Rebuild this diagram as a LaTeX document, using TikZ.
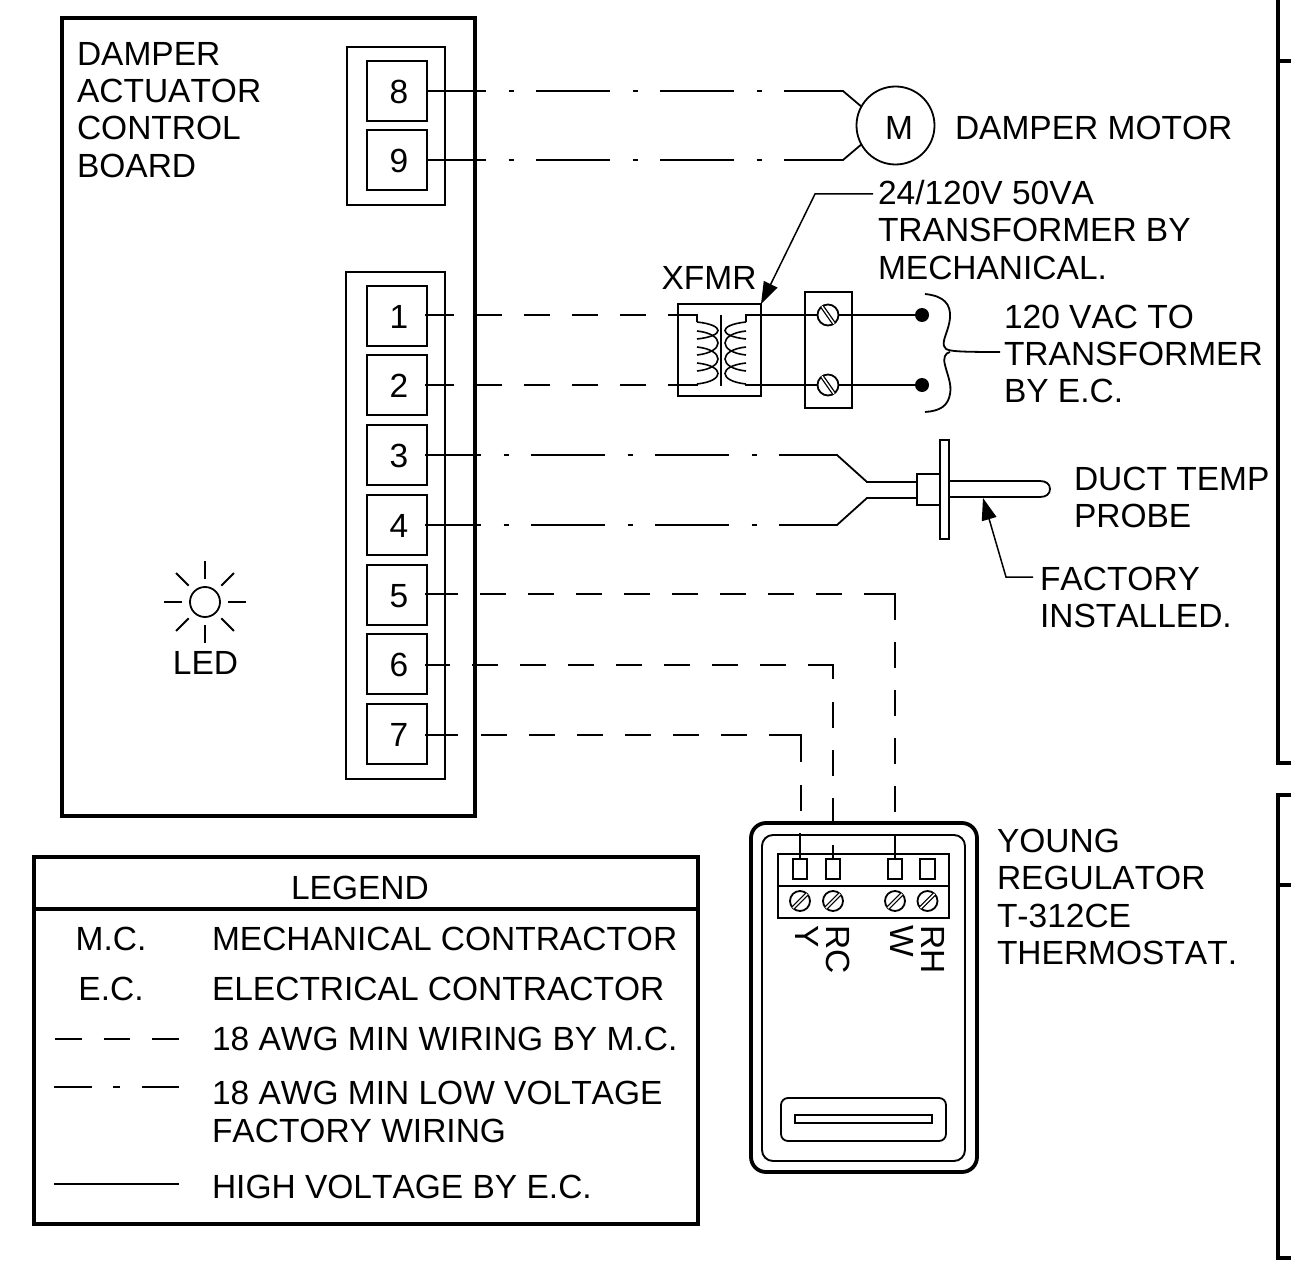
\documentclass[tikz,border=0pt]{standalone}
\usepackage{fontspec}
\setmainfont[Kerning=Off]{Liberation Sans}
\usetikzlibrary{arrows.meta}
\tikzset{
  every node/.style={font=\fontsize{33.5}{37.2}\selectfont,inner sep=0pt,outer sep=0pt},
  wire/.style={line width=1.8pt,line join=miter},
  mdash/.style={wire,dash pattern=on 26pt off 22pt},
  ldash/.style={wire,dash pattern=on 73.5pt off 23pt on 5pt off 22.5pt},
  heavy/.style={line width=3.8pt},
  box/.style={draw,line width=1.9pt},
  terminal/.style={box,minimum width=60pt,minimum height=60pt},
  txt/.style={anchor=west,align=left},
  screw/.style={circle,draw,fill=white,line width=1.8pt,minimum size=21pt},
  slot/.style={line width=1.3pt,double=white,double distance=1.5pt},
  pin/.style={box,minimum width=14.5pt,minimum height=20pt},
  dot/.style={circle,fill=black,minimum size=14pt},
  pointer/.style={wire,line width=1.5pt,-{Triangle[length=22pt,width=15pt]}}
}
\begin{document}
\begin{tikzpicture}[x=1pt,y=-1pt]
\useasboundingbox (0,0) rectangle (1291,1268);
% sheet border at right
\draw[heavy] (1291,61) -- (1278,61);
\draw[heavy] (1278,0) -- (1278,763) -- (1291,763);
\draw[heavy] (1291,795) -- (1278,795) -- (1278,1258) -- (1291,1258);
\draw[heavy] (1278,885) -- (1291,885);
% control board
\node[draw,heavy,minimum width=413pt,minimum height=798pt] (board) at (268.5,417) {};
\node[txt] (boardtxt) at (77,110) {DAMPER\\ACTUATOR\\CONTROL\\BOARD};
\node[box,minimum width=98pt,minimum height=158pt] (grpa) at (396,126) {};
\node[box,minimum width=99pt,minimum height=507pt] (grpb) at (395.5,525.5) {};
\foreach \n/\y/\ty in {8/91/92,9/160/161,1/316/317,2/385/386,3/455/456,4/525/526,5/595/596,6/664/665,7/734/735}{
  \node[terminal] (t\n) at (397,\y) {};
  \node (num\n) at (399,\ty) {\n};
}
% LED
\node[circle,draw,line width=1.8pt,minimum size=30pt] (led) at (205,602) {};
\foreach \a in {0,45,...,315}
  \draw[wire] ([shift={(\a:23pt)}]led.center) -- ([shift={(\a:41pt)}]led.center);
\node (ledtxt) at (205.5,663) {LED};
% motor
\node[circle,draw,line width=1.8pt,minimum size=78pt] (motor) at (895.5,125.5) {};
\node (mtxt) at (899,127.5) {M};
\node[txt] (motortxt) at (955,128) {DAMPER MOTOR};
\coordinate (a8) at (785,91); \coordinate (b8) at (843,91);
\coordinate (a9) at (785,160); \coordinate (b9) at (843,160);
\draw[ldash,dash phase=15pt] (t8.east |- a8) -- (a8);
\draw[wire] (a8) -- (b8) -- (motor.151);
\draw[ldash,dash phase=15pt] (t9.east |- a9) -- (a9);
\draw[wire] (a9) -- (b9) -- (motor.209);
% transformer
\node[box,minimum width=83pt,minimum height=92pt] (xf) at (719.5,350) {};
\node (xftxt) at (709,278) {XFMR};
\coordinate (core1) at (721,315); \coordinate (core2) at (721,386);
\draw[line width=1.3pt] (core1) -- (core2);
\foreach \a/\b in {322/339,331/355,347/371,363/384}{
  \draw[wire,line width=1.6pt] (697,\a) .. controls (725,\a+3) and (725,\b-3) .. (697,\b);
  \draw[wire,line width=1.6pt] (746,\a) .. controls (718,\a+3) and (718,\b-3) .. (746,\b);
}
% terminal block
\node[box,minimum width=47pt,minimum height=116pt] (block) at (828.5,350) {};
\node[screw] (s1) at (828,315) {};
\node[screw] (s2) at (828,385) {};
\draw[slot] (s1.125) -- (s1.305);
\draw[slot] (s2.125) -- (s2.305);
\node[dot] (d1) at (922,315) {};
\node[dot] (d2) at (922,385) {};
\coordinate (p1) at (669,315); \coordinate (p2) at (669,385);
\coordinate (c1) at (697,315); \coordinate (c2) at (697,385);
\coordinate (c3) at (746,315); \coordinate (c4) at (746,385);
\draw[wire] ([xshift=-2pt]t1.east |- p1) -- ([xshift=1pt]t1.east |- p1);
\draw[wire] ([xshift=-2pt]t2.east |- p2) -- ([xshift=1pt]t2.east |- p2);
\draw[mdash] ([xshift=1pt]t1.east |- p1) -- (p1);
\draw[mdash] ([xshift=1pt]t2.east |- p2) -- (p2);
\draw[wire] (p1) -- (c1) -- (697,322);
\draw[wire] (p2) -- (c2) -- (697,384);
\draw[wire] (746,322) -- (c3) -- (s1.west);
\draw[wire] (746,384) -- (c4) -- (s2.west);
\draw[wire] (s1.east) -- (d1);
\draw[wire] (s2.east) -- (d2);
% brace
\coordinate (br) at (1000,352);
\draw[wire] (925,294) .. controls (944,296) and (951,304) .. (950,318)
  .. controls (949,330) and (942,340) .. (944,346) .. controls (945,351) and (950,352) .. (br);
\draw[wire] (950,352) .. controls (945,353) and (943,358) .. (945,365)
  .. controls (947,374) and (952,384) .. (950,394) .. controls (948,406) and (940,411) .. (925,412);
\node[txt] (acttxt) at (1004,354) {120 VAC TO\\TRANSFORMER\\BY E.C.};
\node[txt] (xftop) at (878,230) {24/120V 50VA\\TRANSFORMER BY\\MECHANICAL.};
\coordinate (ld) at (873,194); \coordinate (ld2) at (815,194);
\draw[pointer] (ld) -- (ld2) -- (xf.north east);
% probe
\node[box,minimum width=23pt,minimum height=31pt] (pbody) at (928.5,489.5) {};
\node[box,minimum width=9pt,minimum height=99pt] (plate) at (944.5,489.5) {};
\coordinate (q1) at (949,481); \coordinate (q2) at (949,497);
\draw[wire] (q1) -- (1040,481) .. controls (1046,481) and (1050,484) .. (1050,489)
  .. controls (1050,494) and (1046,497) .. (1040,497) -- (q2);
\coordinate (a3) at (781,455); \coordinate (b3) at (837,455); \coordinate (e3) at (867,482);
\coordinate (a4) at (781,525); \coordinate (b4) at (837,525); \coordinate (e4) at (867,498);
\draw[ldash,dash phase=18pt] ([xshift=-2pt]t3.east) -- (a3);
\draw[ldash,dash phase=18pt] ([xshift=-2pt]t4.east) -- (a4);
\draw[wire] (a3) -- (b3) -- (e3) -- (pbody.west |- e3);
\draw[wire] (a4) -- (b4) -- (e4) -- (pbody.west |- e4);
\node[txt] (probetxt) at (1074,497.5) {DUCT TEMP\\PROBE};
\node[txt] (facttxt) at (1040,597.5) {FACTORY\\INSTALLED.};
\coordinate (f1) at (1033,577); \coordinate (f2) at (1006,577); \coordinate (f3) at (983,498);
\draw[pointer] (f1) -- (f2) -- (f3);
% thermostat
\node[draw,line width=3.8pt,rounded corners=15pt,minimum width=226pt,minimum height=349pt] (therm) at (864,997.5) {};
\node[draw,line width=1.9pt,rounded corners=11pt,minimum width=203pt,minimum height=326pt] (thermin) at (863.5,998) {};
\node[box,minimum width=171pt,minimum height=32pt] (strip1) at (863.5,870) {};
\node[box,minimum width=171pt,minimum height=32pt] (strip2) at (863.5,902) {};
\foreach \n/\x in {y/800,rc/833,w/895,rh/927.5}{
  \node[pin] (pin\n) at (\x,869) {};
  \node[screw,minimum size=20pt] (sc\n) at (\x,901) {};
  \draw[slot] (sc\n.225) -- (sc\n.45);
}
\foreach \n/\x/\t in {y/807/Y,rc/838/RC,w/902/W,rh/933/RH}
  \node[rotate=-90,anchor=west] (lab\n) at (\x,925) {\t};
\node[draw,line width=1.8pt,rounded corners=7pt,minimum width=165pt,minimum height=43pt] (disp) at (863.5,1119.5) {};
\node[draw,line width=2.4pt,minimum width=137pt,minimum height=8pt] (dispin) at (863.5,1119) {};
\node[txt] (thermtxt) at (997,897) {YOUNG\\REGULATOR\\T-312CE\\THERMOSTAT.};
% field wiring 5 (W)
\coordinate (r5a) at (458,594); \coordinate (r5b) at (480,594); \coordinate (r5c) at (864,594);
\coordinate (r5d) at (895,594); \coordinate (r5e) at (895,620); \coordinate (r5f) at (895,642);
\coordinate (r5g) at (895,812); \coordinate (r5h) at (895,835);
\draw[wire] ([xshift=-2pt]t5.east |- r5a) -- (r5a);
\draw[mdash] (r5b) -- (r5c);
\draw[wire] (r5c) -- (r5d) -- (r5e);
\draw[mdash] (r5f) -- (r5g);
\draw[wire] (r5h) -- (pinw.north);
% field wiring 6 (RC)
\coordinate (r6a) at (450,665); \coordinate (r6b) at (472,665); \coordinate (r6c) at (808,665);
\coordinate (r6d) at (833,665); \coordinate (r6e) at (833,679); \coordinate (r6f) at (833,702);
\coordinate (r6h) at (833,845);
\draw[wire] ([xshift=-2pt]t6.east |- r6a) -- (r6a);
\draw[mdash] (r6b) -- (r6c);
\draw[wire] (r6c) -- (r6d) -- (r6e);
\draw[mdash] (r6f) -- (therm.north -| r6f);
\draw[wire] (r6h) -- (pinrc.north);
% field wiring 7 (Y)
\coordinate (r7a) at (458,735); \coordinate (r7b) at (481,735); \coordinate (r7c) at (769,735);
\coordinate (r7d) at (801,735); \coordinate (r7e) at (801,762); \coordinate (r7f) at (801,785);
\coordinate (r7g) at (801,811); \coordinate (r7h) at (800,833);
\draw[wire] ([xshift=-2pt]t7.east |- r7a) -- (r7a);
\draw[mdash] (r7b) -- (r7c);
\draw[wire] (r7c) -- (r7d) -- (r7e);
\draw[wire] (r7f) -- (r7g);
\draw[wire] (r7h) -- (piny.north);
% legend
\node[draw,line width=3.4pt,minimum width=664pt,minimum height=367pt] (legend) at (366,1040.5) {};
\draw[line width=3.4pt] (legend.west |- 0,909) -- (legend.east |- 0,909);
\node (legtitle) at (360,888) {LEGEND};
\node (k1) at (111,939) {M.C.};
\node (k2) at (111,989) {E.C.};
\node[txt] (v1) at (212,939) {MECHANICAL CONTRACTOR};
\node[txt] (v2) at (212,989) {ELECTRICAL CONTRACTOR};
\node[txt] (v3) at (212,1039) {18 AWG MIN WIRING BY M.C.};
\node[txt] (v4) at (212,1112) {18 AWG MIN LOW VOLTAGE\\FACTORY WIRING};
\node[txt] (v5) at (212,1187) {HIGH VOLTAGE BY E.C.};
\coordinate (m1) at (55,1039); \coordinate (m2) at (179,1039);
\draw[wire,dash pattern=on 26.5pt off 22pt] (m1) -- (m2);
\coordinate (m3) at (54,1087); \coordinate (m4) at (179,1087);
\draw[wire,dash pattern=on 38pt off 21pt on 7pt off 22pt on 37pt off 100pt] (m3) -- (m4);
\coordinate (m5) at (54,1184); \coordinate (m6) at (179,1184);
\draw[wire] (m5) -- (m6);
\end{tikzpicture}
\end{document}
